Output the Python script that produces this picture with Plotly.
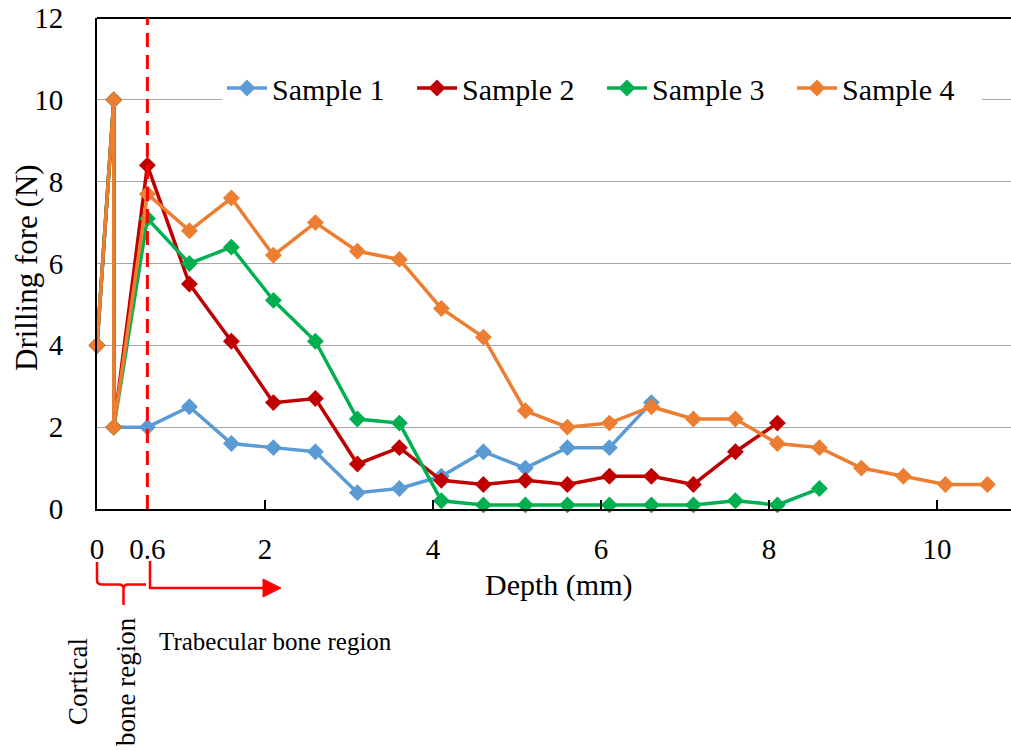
import plotly.graph_objects as go

# ---------------- data ----------------
series_names = ["Sample 1", "Sample 2", "Sample 3", "Sample 4"]
series_colors = ["#5B9BD5", "#C00000", "#00B050", "#ED7D31"]

depth_s1 = [0, 0.2, 0.2, 0.6, 1.1, 1.6, 2.1, 2.6, 3.1, 3.6, 4.1, 4.6, 5.1, 5.6, 6.1, 6.6]
force_s1 = [4, 10, 2, 2.0, 2.5, 1.6, 1.5, 1.4, 0.4, 0.5, 0.8, 1.4, 1.0, 1.5, 1.5, 2.6]

depth_s2 = [0, 0.2, 0.2, 0.6, 1.1, 1.6, 2.1, 2.6, 3.1, 3.6, 4.1, 4.6, 5.1, 5.6, 6.1, 6.6, 7.1, 7.6, 8.1]
force_s2 = [4, 10, 2, 8.4, 5.5, 4.1, 2.6, 2.7, 1.1, 1.5, 0.7, 0.6, 0.7, 0.6, 0.8, 0.8, 0.6, 1.4, 2.1]

depth_s3 = [0, 0.2, 0.2, 0.6, 1.1, 1.6, 2.1, 2.6, 3.1, 3.6, 4.1, 4.6, 5.1, 5.6, 6.1, 6.6, 7.1, 7.6, 8.1, 8.6]
force_s3 = [4, 10, 2, 7.1, 6.0, 6.4, 5.1, 4.1, 2.2, 2.1, 0.2, 0.1, 0.1, 0.1, 0.1, 0.1, 0.1, 0.2, 0.1, 0.5]

depth_s4 = [0, 0.2, 0.2, 0.6, 1.1, 1.6, 2.1, 2.6, 3.1, 3.6, 4.1, 4.6, 5.1, 5.6, 6.1, 6.6, 7.1, 7.6, 8.1, 8.6,
            9.1, 9.6, 10.1, 10.6]
force_s4 = [4, 10, 2, 7.7, 6.8, 7.6, 6.2, 7.0, 6.3, 6.1, 4.9, 4.2, 2.4, 2.0, 2.1, 2.5, 2.2, 2.2, 1.6, 1.5,
            1.0, 0.8, 0.6, 0.6]

x_tick_vals = [0, 0.6, 2, 4, 6, 8, 10]
x_tick_text = ["0", "0.6", "2", "4", "6", "8", "10"]
y_tick_vals = [0, 2, 4, 6, 8, 10, 12]
boundary_depth = 0.6

# ---------------- layout geometry ----------------
W, H = 1011, 751
ML, MR, MT, MB = 97, 0, 18, 242
PW, PH = W - ML - MR, H - MT - MB
X_MAX = 10.881
FONT = "Times New Roman, Liberation Serif, serif"


def px(x):
    return (x - ML) / PW


def py(y):
    return (H - MB - y) / PH


fig = go.Figure()
all_depths = [depth_s1, depth_s2, depth_s3, depth_s4]
all_forces = [force_s1, force_s2, force_s3, force_s4]
for name, color, d, f in zip(series_names, series_colors, all_depths, all_forces):
    fig.add_trace(go.Scatter(
        x=d, y=f, name=name, mode="lines+markers",
        line=dict(color=color, width=3.5),
        marker=dict(symbol="diamond", size=13, color=color),
        cliponaxis=False,
    ))

shapes = []
# top border
shapes.append(dict(type="line", xref="paper", yref="paper", x0=0, x1=1, y0=1, y1=1,
                   line=dict(color="black", width=2)))
# dashed boundary line
shapes.append(dict(type="line", xref="x", yref="paper", x0=boundary_depth, x1=boundary_depth,
                   y0=0, y1=1, line=dict(color="#FF0000", width=3, dash="14px,8px"), layer="above"))


def path(pts):
    out = []
    for cmd, coords in pts:
        s = cmd
        if coords:
            s += " " + " ".join(f"{px(a):.5f},{py(b):.5f}" for a, b in coords)
        out.append(s)
    return " ".join(out)


brace = path([
    ("M", [(97, 562)]), ("L", [(97, 580)]), ("Q", [(97, 584.5), (102, 584.5)]),
    ("L", [(119, 584.5)]), ("Q", [(123.5, 584.5), (123.5, 589)]), ("L", [(123.5, 605)]),
    ("M", [(123.5, 589)]), ("Q", [(123.5, 584.5), (128, 584.5)]), ("L", [(146, 584.5)]),
    ("M", [(150, 561)]), ("L", [(150, 588)]), ("L", [(266, 588)]),
])
shapes.append(dict(type="path", xref="paper", yref="paper", path=brace,
                   line=dict(color="#FF0000", width=2.5)))
arrow_head = path([("M", [(263, 579)]), ("L", [(281, 588)]), ("L", [(263, 597)]), ("Z", [])])
shapes.append(dict(type="path", xref="paper", yref="paper", path=arrow_head,
                   line=dict(color="#FF0000", width=1), fillcolor="#FF0000"))

annotations = [
    dict(text="Depth (mm)", xref="paper", yref="paper", x=px(558), y=py(585),
         xanchor="center", yanchor="middle", showarrow=False, font=dict(size=30, color="black", family=FONT)),
    dict(text="Drilling fore (N)", xref="paper", yref="paper", x=px(26), y=py(268), textangle=-90,
         xanchor="center", yanchor="middle", showarrow=False, font=dict(size=31, color="black", family=FONT)),
    dict(text="Trabecular bone region", xref="paper", yref="paper", x=px(157), y=py(641),
         xanchor="left", yanchor="middle", showarrow=False, font=dict(size=25, color="black", family=FONT)),
    dict(text="Cortical", xref="paper", yref="paper", x=px(78), y=py(682), textangle=-90,
         xanchor="center", yanchor="middle", showarrow=False, font=dict(size=27, color="black", family=FONT)),
    dict(text="bone region", xref="paper", yref="paper", x=px(126), y=py(682), textangle=-90,
         xanchor="center", yanchor="middle", showarrow=False, font=dict(size=27, color="black", family=FONT)),
]

fig.update_layout(
    width=W, height=H,
    margin=dict(l=ML, r=MR, t=MT, b=MB, pad=0),
    paper_bgcolor="white", plot_bgcolor="white",
    font=dict(family=FONT, color="black", size=28),
    showlegend=True,
    legend=dict(orientation="h", x=px(222), y=py(88), xanchor="left", yanchor="middle",
                bgcolor="white", font=dict(size=30, family=FONT, color="black"),
                entrywidth=135, entrywidthmode="pixels", itemwidth=40,
                borderwidth=0, tracegroupgap=0),
    shapes=shapes,
    annotations=annotations,
    xaxis=dict(range=[0, X_MAX], tickmode="array", tickvals=x_tick_vals, ticktext=x_tick_text,
               showgrid=False, zeroline=False, showline=True, linecolor="black", linewidth=2,
               ticks="inside", ticklen=9, tickcolor="black", tickwidth=1.5,
               ticklabelstandoff=13, tickfont=dict(size=29, family=FONT, color="black")),
    yaxis=dict(range=[0, 12], tickmode="array", tickvals=y_tick_vals,
               showgrid=True, gridcolor="#A6A6A6", gridwidth=1.2, zeroline=False,
               showline=True, linecolor="black", linewidth=2, ticks="",
               ticklabelstandoff=26, tickfont=dict(size=29, family=FONT, color="black")),
)

fig.write_html("out.html")
